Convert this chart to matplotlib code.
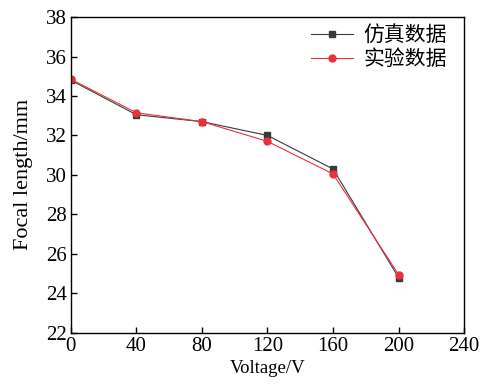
import matplotlib
matplotlib.use("Agg")
import matplotlib.pyplot as plt

voltage = [0, 40, 80, 120, 160, 200]
sim_focal = [34.8, 33.05, 32.7, 32.0, 30.3, 24.8]
exp_focal = [34.85, 33.15, 32.7, 31.7, 30.05, 24.95]

plt.rcParams['font.family'] = ['Liberation Serif', 'Noto Sans CJK SC']
plt.rcParams['font.size'] = 15

fig = plt.figure(figsize=(4.85, 3.87), dpi=100)
ax = fig.add_axes([0.146, 0.14, 0.811, 0.816])

ax.plot(voltage, sim_focal, color='#3a3a3a', lw=0.8, marker='s', ms=4,
        label='仿真数据')
ax.plot(voltage, exp_focal, color='#e8323c', lw=0.8, marker='o', ms=5,
        label='实验数据')

ax.set_xlim(0, 240)
ax.set_ylim(22, 38)
ax.set_xticks(range(0, 241, 40))
ax.set_yticks(range(22, 39, 2))
ax.tick_params(direction='in', length=4, width=1, labelsize=15, pad=3)
for s in ax.spines.values():
    s.set_linewidth(1)
ax.set_xlabel('Voltage/V', fontsize=13.5, labelpad=3)
ax.set_ylabel('Focal length/mm', fontsize=16, labelpad=9)

ax.legend(loc='upper right', frameon=False, handlelength=2.0,
          borderaxespad=0.05, labelspacing=0.2, handletextpad=0.5,
          bbox_to_anchor=(0.98, 1.0),
          prop={'family': ['Liberation Serif', 'Noto Sans CJK SC'], 'size': 15})

fig.savefig('out.png', dpi=100)
